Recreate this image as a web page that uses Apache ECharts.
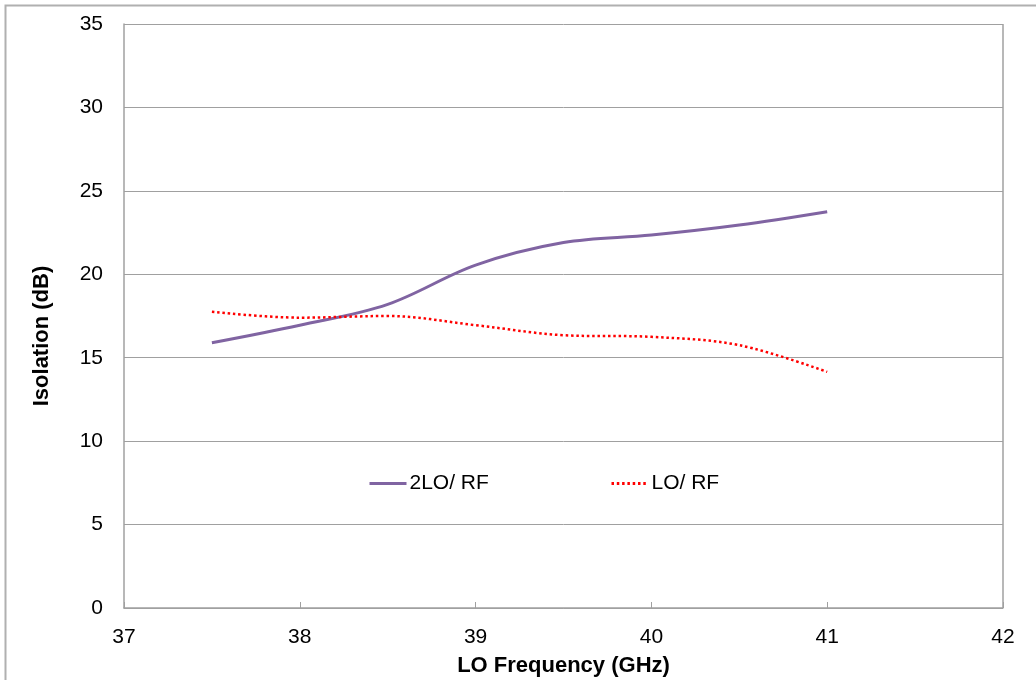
<!DOCTYPE html>
<html>
<head>
<meta charset="utf-8">
<script src="https://cdn.jsdelivr.net/npm/echarts@6/dist/echarts.min.js"></script>
<style>html,body{margin:0;padding:0;background:#fff}#c{width:1036px;height:680px}</style>
</head>
<body>
<div id="c"></div>
<script>
const freq = [37.5, 38, 38.5, 39, 39.5, 40, 40.5, 41];
const iso2LO = [15.9, 16.95, 18.2, 20.55, 21.9, 22.35, 22.95, 23.75];
const isoLO = [17.75, 17.4, 17.5, 16.95, 16.35, 16.25, 15.75, 14.15];
const xTicks = [37, 38, 39, 40, 41, 42];
const yTicks = [0, 5, 10, 15, 20, 25, 30, 35];
const seriesNames = ['2LO/ RF', 'LO/ RF'];

const font = 'Liberation Sans, Arial, sans-serif';
const chart = echarts.init(document.getElementById('c'), null, {renderer: 'canvas'});
const legendCommon = {top: 473, padding: 0, itemWidth: 37, itemHeight: 10, itemGap: 0,
  itemStyle: {opacity: 0},
  lineStyle: {width: 3},
  textStyle: {fontFamily: font, fontSize: 21, color: '#000', padding: [0,0,0,-2]}};
chart.setOption({
  animation: false,
  backgroundColor: '#fff',
  grid: {left: 124, top: 24, right: 33, bottom: 72, containLabel: false, outerBoundsMode: 'none'},
  xAxis: {
    type: 'value', min: xTicks[0], max: xTicks[xTicks.length - 1], interval: 1,
    name: 'LO Frequency (GHz)', nameLocation: 'middle', nameGap: 47,
    nameTextStyle: {fontFamily: font, fontSize: 22, fontWeight: 'bold', color: '#000'},
    axisLine: {lineStyle: {color: '#a0a0a0', width: 1.5}},
    axisTick: {show: true, inside: true, length: 6, lineStyle: {color: '#a0a0a0'}},
    axisLabel: {fontFamily: font, fontSize: 21, color: '#000', margin: 19},
    splitLine: {show: false}
  },
  yAxis: {
    type: 'value', min: yTicks[0], max: yTicks[yTicks.length - 1], interval: 5,
    axisLine: {show: true, lineStyle: {color: '#a0a0a0', width: 1.5}},
    axisTick: {show: false},
    axisLabel: {fontFamily: font, fontSize: 21, color: '#000', margin: 21},
    splitLine: {show: true, lineStyle: {color: '#a0a0a0', width: 1}}
  },
  legend: [
    Object.assign({data: [seriesNames[0]], left: 368}, legendCommon),
    Object.assign({data: [seriesNames[1]], left: 610}, legendCommon)
  ],
  graphic: [
    {type: 'rect', shape: {x: 5.5, y: 5.5, width: 1100, height: 800}, style: {fill: 'none', stroke: '#b0b0b0', lineWidth: 2}, silent: true, z: -1},
    {type: 'line', shape: {x1: 1003, y1: 24, x2: 1003, y2: 608}, style: {stroke: '#a0a0a0', lineWidth: 1.5}, silent: true},
    {type: 'text', x: 42, y: 336, rotation: Math.PI / 2,
     style: {text: 'Isolation (dB)', fontFamily: font, fontSize: 22, fontWeight: 'bold', fill: '#000', align: 'center', verticalAlign: 'middle'}}
  ],
  series: [
    {name: seriesNames[0], type: 'line', smooth: 0.35, symbol: 'none',
     data: freq.map((f, i) => [f, iso2LO[i]]),
     color: '#8064A2', lineStyle: {color: '#8064A2', width: 3}},
    {name: seriesNames[1], type: 'line', smooth: 0.35, symbol: 'none',
     data: freq.map((f, i) => [f, isoLO[i]]),
     color: '#ff0000', lineStyle: {color: '#ff0000', width: 2.5, type: [2.5, 2.8]}}
  ]
});
</script>
</body>
</html>
